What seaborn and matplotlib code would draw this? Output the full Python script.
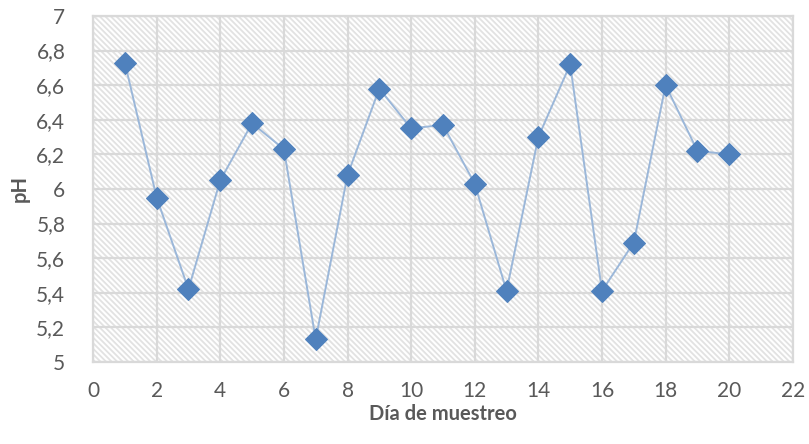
import pandas as pd
import matplotlib.pyplot as plt
import seaborn as sns
from matplotlib.patches import Rectangle

# Data
dias = [1, 2, 3, 4, 5, 6, 7, 8, 9, 10, 11, 12, 13, 14, 15, 16, 17, 18, 19, 20]
ph = [6.73, 5.95, 5.42, 6.05, 6.38, 6.23, 5.13, 6.08, 6.58, 6.35,
      6.37, 6.03, 5.41, 6.30, 6.72, 5.41, 5.69, 6.60, 6.22, 6.20]
x_ticks = list(range(0, 23, 2))
y_ticks = [5.0, 5.2, 5.4, 5.6, 5.8, 6.0, 6.2, 6.4, 6.6, 6.8, 7.0]
y_labels = ["5", "5,2", "5,4", "5,6", "5,8", "6", "6,2", "6,4", "6,6", "6,8", "7"]

df = pd.DataFrame({"dia": dias, "ph": ph})

sns.set_style("white")
plt.rcParams["font.family"] = ["Lato", "DejaVu Sans"]
plt.rcParams["hatch.color"] = "#e2e2e2"
plt.rcParams["hatch.linewidth"] = 1.3

fig = plt.figure(figsize=(8.09, 4.44), dpi=100)
ax = fig.add_axes([0.115, 0.185, 0.865, 0.779])

# hatched background like the Excel pattern fill
ax.add_patch(Rectangle((0, 0), 1, 1, transform=ax.transAxes, facecolor="white",
                       edgecolor="#e2e2e2", hatch="\\" * 6, linewidth=0, zorder=0))

sns.lineplot(data=df, x="dia", y="ph", ax=ax, color="#9bb7d9", linewidth=1.4,
             marker="D", markersize=11.5, markerfacecolor="#4f81bd",
             markeredgecolor="#4f81bd", zorder=3)

ax.set_xlim(0, 22)
ax.set_ylim(5, 7)
ax.set_xticks(x_ticks)
ax.set_yticks(y_ticks)
ax.set_yticklabels(y_labels)
ax.grid(True, color="#d9d9d9", linewidth=1.6, zorder=1)
ax.set_axisbelow(True)
for s in ax.spines.values():
    s.set_color("#d9d9d9")
    s.set_linewidth(1.6)

ax.tick_params(axis="y", length=0, labelsize=15, labelcolor="#595959", pad=20)
ax.tick_params(axis="x", length=0, labelsize=15, labelcolor="#595959", pad=14)
ax.set_xlabel("Día de muestreo", fontsize=14.5, fontweight="bold", color="#595959", labelpad=2)
ax.set_ylabel("pH", fontsize=14.5, fontweight="bold", color="#595959", labelpad=5)

fig.savefig("out.png", dpi=100)
